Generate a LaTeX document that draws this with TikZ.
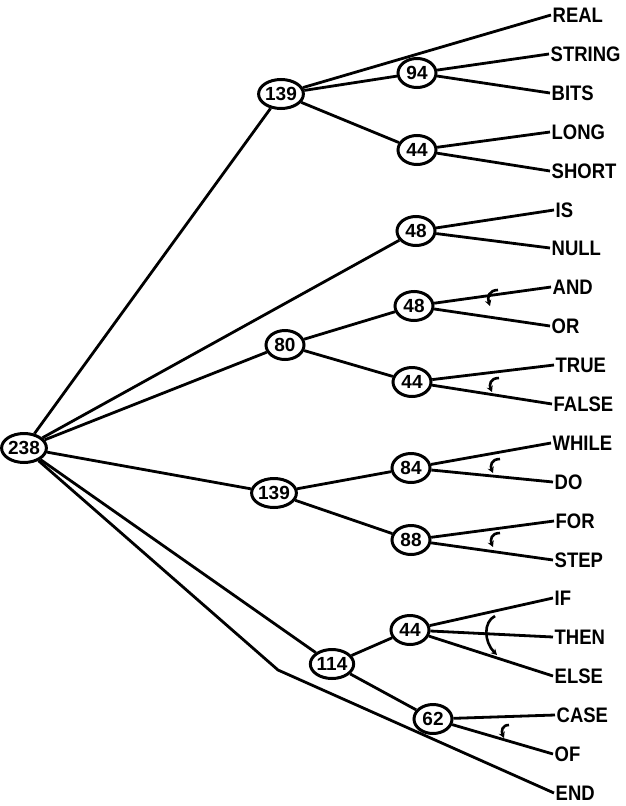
\documentclass[tikz,border=0pt]{standalone}
\usepackage{fontspec}
\setmainfont{Liberation Sans}
\newfontfamily\keyfont{Liberation Sans}[FakeStretch=0.88, BoldFont={Liberation Sans Bold}]
\usetikzlibrary{shapes.geometric,arrows.meta}
\begin{document}
\begin{tikzpicture}[x=1pt,y=-1pt,
  wt/.style={draw, ellipse, line width=3pt, minimum width=38pt,
    minimum height=29pt, inner sep=0pt,
    font=\bfseries\fontsize{19}{19}\selectfont},
  leaf/.style={anchor=west, inner sep=1.5pt,
    font=\keyfont\bfseries\fontsize{21}{21}\selectfont},
  edge/.style={line width=2.8pt},
  ordmark/.style={line width=2.6pt, -{Stealth[length=6pt,width=6.5pt]}}]
\useasboundingbox (0,0) rectangle (625,806);

% weighted internal nodes
\node[wt] (root) at (24,448) {238};
\node[wt] (n139a) at (281,94) {139};
\node[wt] (n94) at (417,73) {94};
\node[wt] (n44a) at (417,150) {44};
\node[wt] (n48a) at (416,231) {48};
\node[wt] (n80) at (285,345) {80};
\node[wt] (n48b) at (414,306) {48};
\node[wt] (n44b) at (412,382) {44};
\node[wt] (n139b) at (274,493) {139};
\node[wt] (n84) at (411,468) {84};
\node[wt] (n88) at (411,540) {88};
\node[wt] (n114) at (332,664) {114};
\node[wt] (n44c) at (410,630) {44};
\node[wt] (n62) at (433,719) {62};
\coordinate (kink) at (278,670);

% keywords
\node[leaf] (real)   at (551,15)  {REAL};
\node[leaf] (string) at (549,54)  {STRING};
\node[leaf] (bits)   at (550,93)  {BITS};
\node[leaf] (long)   at (550,132) {LONG};
\node[leaf] (short)  at (550,171) {SHORT};
\node[leaf] (is)     at (554,210) {IS};
\node[leaf] (null)   at (550,248) {NULL};
\node[leaf] (and)    at (551,287) {AND};
\node[leaf] (or)     at (550,326) {OR};
\node[leaf] (true)   at (554,365) {TRUE};
\node[leaf] (false)  at (552,404) {FALSE};
\node[leaf] (while)  at (551,443) {WHILE};
\node[leaf] (do)     at (553,482) {DO};
\node[leaf] (for)    at (554,521) {FOR};
\node[leaf] (stepw)  at (553,560) {STEP};
\node[leaf] (if)     at (553,598) {IF};
\node[leaf] (then)   at (553,637) {THEN};
\node[leaf] (else)   at (553,676) {ELSE};
\node[leaf] (case)   at (555,715) {CASE};
\node[leaf] (of)     at (553,754) {OF};
\node[leaf] (endw)   at (554,793) {END};

% branches
\draw[edge] (root) -- (n139a);
\draw[edge] (root) -- (n48a);
\draw[edge] (root) -- (n80);
\draw[edge] (root) -- (n139b);
\draw[edge] (root) -- (n114);
\draw[edge, line join=round] (root) -- (kink) -- (endw.west);

\draw[edge] (n139a) -- (real.west);
\draw[edge] (n139a) -- (n94);
\draw[edge] (n139a) -- (n44a);
\draw[edge] (n94) -- (string.west);
\draw[edge] (n94) -- (bits.west);
\draw[edge] (n44a) -- (long.west);
\draw[edge] (n44a) -- (short.west);
\draw[edge] (n48a) -- (is.west);
\draw[edge] (n48a) -- (null.west);

\draw[edge] (n80) -- (n48b);
\draw[edge] (n80) -- (n44b);
\draw[edge] (n48b) -- (and.west);
\draw[edge] (n48b) -- (or.west);
\draw[edge] (n44b) -- (true.west);
\draw[edge] (n44b) -- (false.west);

\draw[edge] (n139b) -- (n84);
\draw[edge] (n139b) -- (n88);
\draw[edge] (n84) -- (while.west);
\draw[edge] (n84) -- (do.west);
\draw[edge] (n88) -- (for.west);
\draw[edge] (n88) -- (stepw.west);

\draw[edge] (n114) -- (n44c);
\draw[edge] (n114) -- (n62);
\draw[edge] (n44c) -- (if.west);
\draw[edge] (n44c) -- (then.west);
\draw[edge] (n44c) -- (else.west);
\draw[edge] (n62) -- (case.west);
\draw[edge] (n62) -- (of.west);

% ordering marks between sibling branches
\draw[ordmark] (498,290) .. controls (489,290) and (487,297) .. (490,306);
\draw[ordmark] (499,378) .. controls (490,378) and (489,385) .. (492,392);
\draw[ordmark] (500,459) .. controls (491,459) and (490,466) .. (493,473);
\draw[ordmark] (500,533) .. controls (491,533) and (490,540) .. (493,547);
\draw[ordmark] (495,616) .. controls (483,622) and (484,642) .. (497,655);
\draw[ordmark] (509,725) .. controls (502,725) and (501,731) .. (504,738);
\end{tikzpicture}
\end{document}
